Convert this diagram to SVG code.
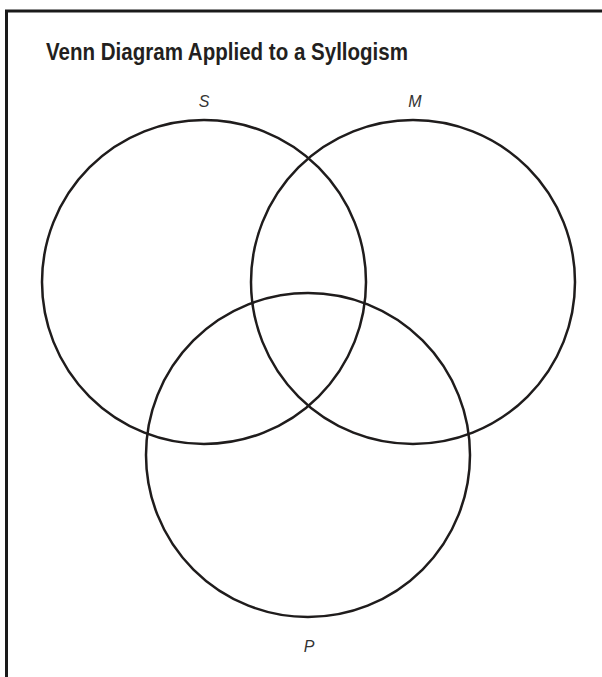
<svg xmlns="http://www.w3.org/2000/svg" width="602" height="677" viewBox="0 0 602 677">
  <style>
    .frame { stroke: #1a1a1a; stroke-width: 3; fill: none; }
    .circle { stroke: #1f1c1c; stroke-width: 2.5; fill: none; }
    .title { font-family: "Liberation Sans Narrow", "Liberation Sans", Arial, sans-serif; font-weight: bold; font-size: 23px; fill: #231f20; }
    .label { font-family: "Liberation Sans", Arial, sans-serif; font-style: italic; font-size: 16px; fill: #333; text-anchor: middle; }
  </style>
  <rect width="602" height="677" fill="#fff"/>
  <g id="frame">
    <path class="frame" d="M6.5 677 V11 H602"/>
  </g>
  <text class="title" x="46" y="59.5" textLength="362" lengthAdjust="spacingAndGlyphs">Venn Diagram Applied to a Syllogism</text>
  <g id="S">
    <circle class="circle" cx="204" cy="282" r="162"/>
    <text class="label" x="204" y="107">S</text>
  </g>
  <g id="M">
    <circle class="circle" cx="413" cy="282" r="162"/>
    <text class="label" x="415" y="107">M</text>
  </g>
  <g id="P">
    <circle class="circle" cx="308" cy="455" r="162"/>
    <text class="label" x="309" y="652">P</text>
  </g>
  <g id="connectors"/>
</svg>
